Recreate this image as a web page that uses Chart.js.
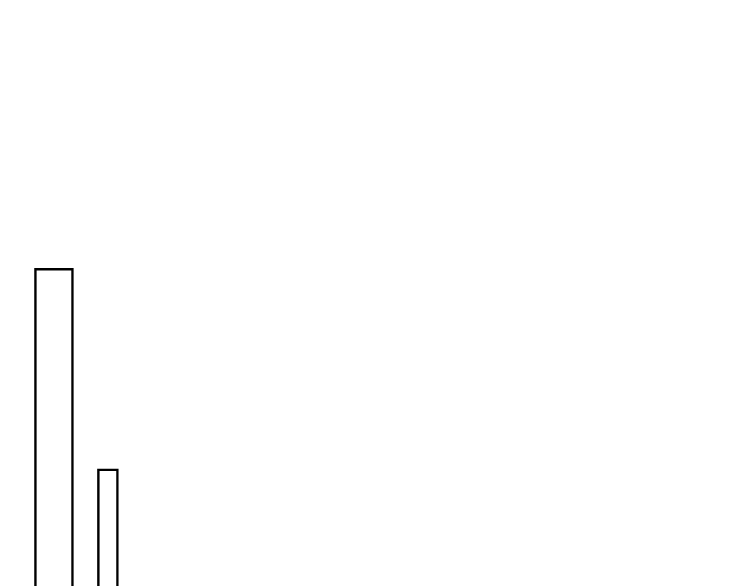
<!DOCTYPE html>
<html>
<head>
<meta charset="utf-8">
<script src="https://cdn.jsdelivr.net/npm/chart.js@4/dist/chart.umd.min.js"></script>
<style>
  html, body { margin: 0; padding: 0; background: #fff; }
  #wrap { width: 750px; height: 586px; }
</style>
</head>
<body>
<div id="wrap"><canvas id="myChart" width="750" height="586"></canvas></div>
<script>
// two bars
const positions = [1, 2];
const values = [54.2, 20];
const widths = [39, 21];

const ctx = document.getElementById('myChart').getContext('2d');

const datasets = values.map((v, i) => ({
  data: [{ x: positions[i], y: v }],
  backgroundColor: '#ffffff',
  borderColor: '#000000',
  borderWidth: 2.5,
  borderSkipped: 'start',
  barThickness: widths[i],
  grouped: false
}));

const myChart = new Chart(ctx, {
  type: 'bar',
  data: { datasets: datasets },
  options: {
    responsive: false,
    animation: false,
    layout: { padding: 0 },
    plugins: {
      legend: { display: false },
      tooltip: { enabled: false }
    },
    scales: {
      x: { type: 'linear', min: 0, max: 13.9, offset: false, display: false },
      y: { min: 0, max: 100, display: false }
    }
  }
});
</script>
</body>
</html>
